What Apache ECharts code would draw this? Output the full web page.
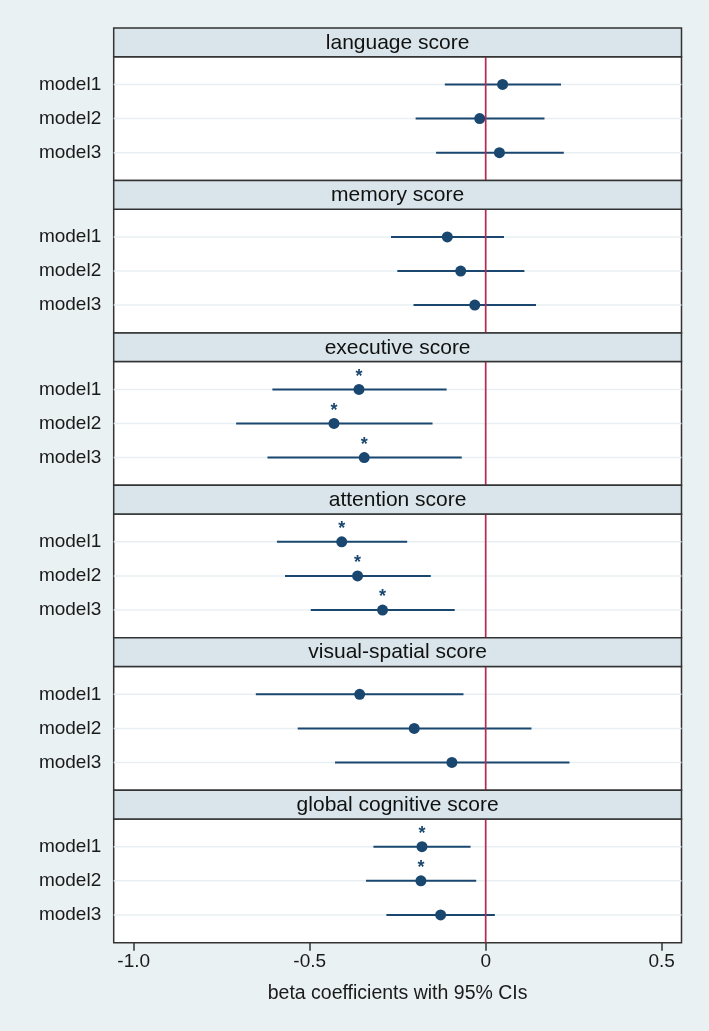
<!DOCTYPE html>
<html>
<head>
<meta charset="utf-8">
<script src="https://cdn.jsdelivr.net/npm/echarts@6/dist/echarts.min.js"></script>
<style>
html,body{margin:0;padding:0;background:#eaf1f3;}
#chart{width:709px;height:1031px;}
</style>
</head>
<body>
<div id="chart"></div>
<script>
// ---- data ----
var panels = ['language score','memory score','executive score','attention score','visual-spatial score','global cognitive score'];
var models = ['model1','model2','model3'];
var estimate = [
  [0.048, -0.017, 0.039],
  [-0.109, -0.071, -0.031],
  [-0.360, -0.431, -0.345],
  [-0.409, -0.364, -0.293],
  [-0.358, -0.203, -0.096],
  [-0.181, -0.184, -0.128]
];
var lower = [
  [-0.116, -0.199, -0.141],
  [-0.269, -0.251, -0.205],
  [-0.606, -0.709, -0.620],
  [-0.593, -0.570, -0.497],
  [-0.653, -0.534, -0.428],
  [-0.319, -0.340, -0.282]
];
var upper = [
  [0.214, 0.167, 0.222],
  [0.052, 0.110, 0.143],
  [-0.111, -0.151, -0.068],
  [-0.223, -0.156, -0.088],
  [-0.063, 0.130, 0.238],
  [-0.043, -0.027, 0.026]
];
var significant = [
  [0,0,0],
  [0,0,0],
  [1,1,1],
  [1,1,1],
  [0,0,0],
  [1,1,0]
];
var referenceValue = [0];
var xTickValues = [-1, -0.5, 0, 0.5];
var xTickLabels = ['-1.0', '-0.5', '0', '0.5'];
var xTitle = 'beta coefficients with 95% CIs';

(function () {
  // ---- layout / style ----
  var FONT = 'Liberation Sans, Arial, sans-serif';
  var NAVY = '#1a476f';
  var RED = '#b8284f';
  var BORDER = '#333333';
  var LEFT = 113.7, RIGHTX = 681.5, TOP0 = 28, PERIOD = 152.45, HEADER = 28.7;
  var XMIN = -1.0568, XMAX = 0.5563, YMIN = 0.185, YMAX = 3.815;

  var chart = echarts.init(document.getElementById('chart'), null, {renderer: 'canvas'});

  var grids = [], xAxes = [], yAxes = [], series = [], graphics = [];
  for (var i = 0; i < panels.length; i++) {
    var panelTop = TOP0 + PERIOD * i;
    var last = (i === panels.length - 1);
    grids.push({
      left: LEFT, right: 709 - RIGHTX, top: panelTop + HEADER, height: PERIOD - HEADER,
      show: true, backgroundColor: '#ffffff', borderColor: BORDER, borderWidth: 1.5
    });
    xAxes.push({
      type: 'value', gridIndex: i, min: XMIN, max: XMAX,
      show: last,
      axisLine: {show: false},
      splitLine: {show: false},
      axisTick: {show: last, customValues: xTickValues, length: 8, inside: false,
        lineStyle: {color: BORDER, width: 1.5}},
      axisLabel: {show: last, customValues: xTickValues, margin: 10,
        fontSize: 19, fontFamily: FONT, color: '#1a1a1a',
        formatter: function (v) {
          var k = xTickValues.indexOf(v);
          return k >= 0 ? xTickLabels[k] : '';
        }},
      name: last ? xTitle : '',
      nameLocation: 'middle', nameGap: 41,
      nameTextStyle: {fontSize: 19.5, fontFamily: FONT, color: '#1a1a1a'}
    });
    yAxes.push({
      type: 'value', gridIndex: i, min: YMIN, max: YMAX, inverse: true,
      axisLine: {show: false}, axisTick: {show: false}, splitLine: {show: false},
      axisLabel: {customValues: [1, 2, 3], margin: 12.5, fontSize: 19, fontFamily: FONT,
        color: '#1a1a1a',
        formatter: function (v) { return models[Math.round(v) - 1] || ''; }}
    });

    // faint row gridlines spanning the panel
    series.push({
      type: 'custom', xAxisIndex: i, yAxisIndex: i, z: 1, silent: true,
      encode: {y: 0},
      data: models.map(function (m, k) { return [k + 1]; }),
      renderItem: function (params, api) {
        var cs = params.coordSys;
        var p = api.coord([0, api.value(0)]);
        return {type: 'line', shape: {x1: cs.x, y1: p[1], x2: cs.x + cs.width, y2: p[1]},
          style: {stroke: '#e8eff3', lineWidth: 1.5}};
      }
    });

    // confidence intervals
    series.push({
      type: 'custom', xAxisIndex: i, yAxisIndex: i, z: 2, silent: true,
      encode: {x: [0, 1], y: 2},
      data: models.map(function (m, k) { return [lower[i][k], upper[i][k], k + 1]; }),
      renderItem: function (params, api) {
        var p1 = api.coord([api.value(0), api.value(2)]);
        var p2 = api.coord([api.value(1), api.value(2)]);
        return {type: 'line', shape: {x1: p1[0], y1: p1[1], x2: p2[0], y2: p2[1]},
          style: {stroke: NAVY, lineWidth: 2}};
      }
    });

    // zero reference line
    series.push({
      type: 'custom', xAxisIndex: i, yAxisIndex: i, z: 3, silent: true,
      encode: {x: 0},
      data: referenceValue.map(function (v) { return [v]; }),
      renderItem: function (params, api) {
        var cs = params.coordSys;
        var p = api.coord([api.value(0), 2]);
        return {type: 'line', shape: {x1: p[0], y1: cs.y, x2: p[0], y2: cs.y + cs.height},
          style: {stroke: RED, lineWidth: 1.7}};
      }
    });

    // point estimates with significance stars
    series.push({
      type: 'scatter', xAxisIndex: i, yAxisIndex: i, z: 4, silent: true,
      symbol: 'circle', symbolSize: 11,
      itemStyle: {color: NAVY, opacity: 1},
      label: {show: false, position: 'top', distance: -2, formatter: '*',
        fontSize: 18, fontWeight: 'bold', fontFamily: FONT, color: NAVY},
      data: models.map(function (m, k) {
        return {value: [estimate[i][k], k + 1], label: {show: significant[i][k] === 1}};
      })
    });

    // panel header strip
    graphics.push({
      type: 'rect', z: 10,
      shape: {x: LEFT, y: panelTop, width: RIGHTX - LEFT, height: HEADER},
      style: {fill: '#d9e5ea', stroke: BORDER, lineWidth: 1.5}
    });
    graphics.push({
      type: 'text', z: 11,
      style: {text: panels[i], x: (LEFT + RIGHTX) / 2, y: panelTop + HEADER / 2 + 0.5,
        textAlign: 'center', textVerticalAlign: 'middle',
        font: '21px ' + FONT, fill: '#111111'}
    });
  }

  chart.setOption({
    backgroundColor: '#eaf1f3',
    animation: false,
    grid: grids,
    xAxis: xAxes,
    yAxis: yAxes,
    series: series,
    graphic: graphics
  });
})();
</script>
</body>
</html>
